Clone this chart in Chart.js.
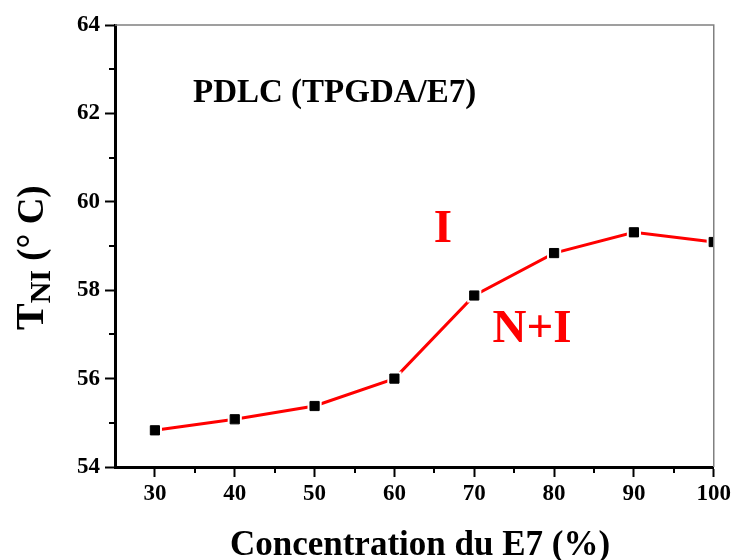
<!DOCTYPE html>
<html>
<head>
<meta charset="utf-8">
<script src="https://cdn.jsdelivr.net/npm/chart.js@4.4.0/dist/chart.umd.min.js"></script>
<style>
  html, body { margin: 0; padding: 0; background: #fff; }
  #wrap { width: 734px; height: 560px; }
</style>
</head>
<body>
<div id="wrap"><canvas id="chart"></canvas></div>
<script>
// E7 concentration (%) and measured T_NI (°C)
const concentrations = [30, 40, 50, 60, 70, 80, 90, 100];
const tniValues = [54.83, 55.08, 55.38, 56.0, 57.88, 58.84, 59.31, 59.09];

const xTicks = [30, 40, 50, 60, 70, 80, 90, 100];
const xMinorTicks = [35, 45, 55, 65, 75, 85, 95];
const yTicks = [54, 56, 58, 60, 62, 64];
const yMinorTicks = [55, 57, 59, 61, 63];

const FONT = "'Liberation Serif', 'Times New Roman', serif";

const points = concentrations.map((x, i) => ({ x: x, y: tniValues[i] }));

// draws minor ticks, the grey frame and all the free text
const decorPlugin = {
  id: 'decor',
  afterDraw(chart) {
    const ctx = chart.ctx;
    const area = chart.chartArea;
    const xs = chart.scales.x;
    const ys = chart.scales.y;

    ctx.save();
    // grey top/right frame
    ctx.strokeStyle = '#808080';
    ctx.lineWidth = 1.5;
    ctx.beginPath();
    ctx.moveTo(area.left, area.top);
    ctx.lineTo(area.right, area.top);
    ctx.lineTo(area.right, area.bottom);
    ctx.stroke();

    // minor ticks
    ctx.strokeStyle = '#000';
    ctx.lineWidth = 2;
    ctx.beginPath();
    xMinorTicks.forEach(v => {
      const px = Math.round(xs.getPixelForValue(v));
      ctx.moveTo(px, area.bottom);
      ctx.lineTo(px, area.bottom + 6);
    });
    yMinorTicks.forEach(v => {
      const py = Math.round(ys.getPixelForValue(v));
      ctx.moveTo(area.left, py);
      ctx.lineTo(area.left - 6, py);
    });
    ctx.stroke();

    // labels inside the plot
    ctx.textBaseline = 'alphabetic';
    ctx.fillStyle = '#000';
    ctx.font = 'bold 33px ' + FONT;
    ctx.textAlign = 'left';
    ctx.fillText('PDLC (TPGDA/E7)', 193, 102);

    ctx.fillStyle = '#ff0000';
    ctx.font = 'bold 47px ' + FONT;
    ctx.textAlign = 'center';
    ctx.fillText('I', 443, 242);
    ctx.fillText('N+I', 532, 342);

    // x axis title
    ctx.fillStyle = '#000';
    ctx.font = 'bold 35px ' + FONT;
    ctx.textAlign = 'center';
    ctx.fillText('Concentration du E7 (%)', 420, 555);

    // y axis title with subscript
    ctx.translate(43, 330);
    ctx.rotate(-Math.PI / 2);
    ctx.textAlign = 'left';
    let cx = 0;
    ctx.font = 'bold 40px ' + FONT;
    ctx.fillText('T', cx, 0);
    cx += ctx.measureText('T').width;
    ctx.font = 'bold 30px ' + FONT;
    ctx.fillText('NI', cx, 7);
    cx += ctx.measureText('NI').width;
    ctx.font = 'bold 37px ' + FONT;
    ctx.fillText(' (\u00B0 C)', cx, 0);
    ctx.restore();
  }
};

const ctx = document.getElementById('chart').getContext('2d');
new Chart(ctx, {
  type: 'line',
  data: {
    datasets: [
      {
        // black square markers
        data: points,
        showLine: false,
        pointStyle: 'rect',
        pointRadius: 6.5,
        pointBackgroundColor: '#000',
        pointBorderColor: '#000',
        pointBorderWidth: 1,
        order: 0
      },
      {
        // white halo, gives the small gap between line and marker
        data: points,
        showLine: false,
        pointStyle: 'rect',
        pointRadius: 10,
        pointBackgroundColor: '#fff',
        pointBorderColor: '#fff',
        pointBorderWidth: 0,
        order: 1
      },
      {
        data: points,
        borderColor: '#ff0000',
        borderWidth: 3,
        pointRadius: 0,
        tension: 0,
        fill: false,
        order: 2
      }
    ]
  },
  options: {
    responsive: true,
    maintainAspectRatio: false,
    animation: false,
    layout: { padding: { top: 25, right: 20, left: 0, bottom: 0 } },
    plugins: {
      legend: { display: false },
      tooltip: { enabled: false }
    },
    scales: {
      x: {
        type: 'linear',
        min: 25,
        max: 100,
        afterBuildTicks: (scale) => { scale.ticks = xTicks.map(v => ({ value: v })); },
        afterFit: (scale) => { scale.height = 93; },
        border: { display: true, color: '#000', width: 3 },
        grid: {
          display: true,
          drawOnChartArea: false,
          drawTicks: true,
          tickLength: 10,
          tickWidth: 2,
          tickColor: '#000'
        },
        ticks: {
          color: '#000',
          padding: 3,
          maxRotation: 0,
          font: { family: FONT, size: 23, weight: 'bold' }
        }
      },
      y: {
        type: 'linear',
        min: 54,
        max: 64,
        afterBuildTicks: (scale) => { scale.ticks = yTicks.map(v => ({ value: v })); },
        afterFit: (scale) => { scale.width = 115; },
        border: { display: true, color: '#000', width: 3 },
        grid: {
          display: true,
          drawOnChartArea: false,
          drawTicks: true,
          tickLength: 10,
          tickWidth: 2,
          tickColor: '#000'
        },
        ticks: {
          color: '#000',
          padding: 5,
          font: { family: FONT, size: 23, weight: 'bold' }
        }
      }
    }
  },
  plugins: [decorPlugin]
});
</script>
</body>
</html>
